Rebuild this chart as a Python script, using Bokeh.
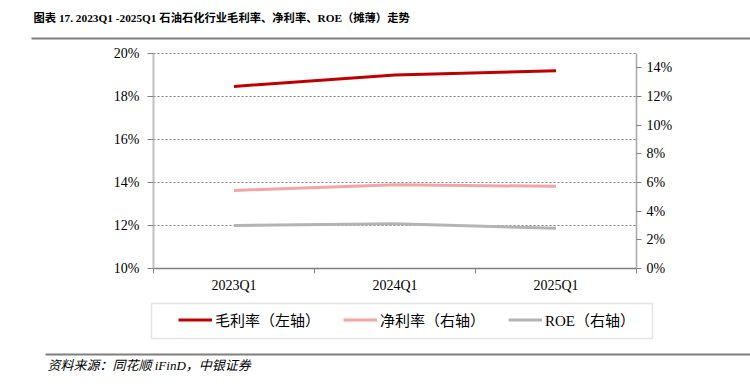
from bokeh.plotting import figure
from bokeh.models import (Range1d, LinearAxis, FixedTicker, PrintfTickFormatter,
                          Legend, LegendItem, ColumnDataSource, Label, BoxAnnotation)
from bokeh.embed import file_html
from bokeh.resources import INLINE

# ---- data ----
categories = ["2023Q1", "2024Q1", "2025Q1"]
gross_margin = [18.47, 19.0, 19.2]      # left axis, %
net_margin = [5.45, 5.85, 5.73]         # right axis, %
roe = [3.0, 3.12, 2.8]                  # right axis, %
left_ticks = [10, 12, 14, 16, 18, 20]
right_ticks = [0, 2, 4, 6, 8, 10, 12, 14]
left_lim = (10, 20)
right_lim = (0, 15)
title_text = "图表 17. 2023Q1 -2025Q1 石油石化行业毛利率、净利率、ROE（摊薄）走势"
source_text = "资料来源：同花顺 iFinD，中银证券"
legend_labels = ["毛利率（左轴）", "净利率（右轴）", "ROE（右轴）"]

FONT = "Liberation Serif, Noto Sans CJK SC"
W, H = 750, 388
# plot-area placement in pixels (layout only)
PL, PR, PT, PB = 153, 636, 53, 268

n = len(categories)
xpx = (PR - PL) / n
x_start = -PL / xpx
x_end = n + (W - PR) / xpx
lpx = (PB - PT) / (left_lim[1] - left_lim[0])
rpx = (PB - PT) / (right_lim[1] - right_lim[0])

xpos = [i + 0.5 for i in range(n)]
src = ColumnDataSource(dict(x=xpos, gross=gross_margin, net=net_margin, roe=roe))

p = figure(width=W, height=H, x_range=Range1d(x_start, x_end),
           y_range=Range1d(left_lim[0] - (H - PB) / lpx, left_lim[1] + PT / lpx),
           output_backend="svg", toolbar_location=None, min_border=0)
p.outline_line_color = None
p.grid.visible = False
p.extra_y_ranges = {"right": Range1d(right_lim[0] - (H - PB) / rpx,
                                     right_lim[1] + PT / rpx)}

# dotted horizontal guide lines at the left-axis ticks
p.segment(x0=[0] * len(left_ticks), x1=[n] * len(left_ticks), y0=left_ticks,
          y1=left_ticks, line_color="#808080", line_dash="2 2", line_width=1)

r1 = p.line("x", "gross", source=src, line_color="#C00000", line_width=3)
r2 = p.line("x", "net", source=src, line_color="#F2A6A6", line_width=3,
            y_range_name="right")
r3 = p.line("x", "roe", source=src, line_color="#B4B4B4", line_width=3,
            y_range_name="right")

# x axis
xa = p.xaxis[0]
xa.fixed_location = left_lim[0]
xa.bounds = (0, n)
xa.ticker = FixedTicker(ticks=xpos, minor_ticks=list(range(n + 1)))
xa.major_label_overrides = {x: c for x, c in zip(xpos, categories)}
xa.major_tick_line_color = None
xa.major_tick_out = 0
xa.major_tick_in = 0
xa.minor_tick_out = 5
xa.minor_tick_in = 0
xa.minor_tick_line_color = "#808080"
xa.axis_line_color = "#808080"
xa.axis_line_width = 1.5
xa.major_label_standoff = 4
xa.major_label_text_font = FONT
xa.major_label_text_font_size = "14px"
xa.major_label_text_color = "black"

# left axis
ya = p.yaxis[0]
ya.fixed_location = 0
ya.bounds = left_lim
ya.ticker = FixedTicker(ticks=left_ticks)
ya.formatter = PrintfTickFormatter(format="%d%%")
ya.axis_line_color = "#BFBFBF"
ya.axis_line_width = 2
ya.major_tick_line_color = "#808080"
ya.major_tick_out = 6
ya.major_tick_in = 0
ya.minor_tick_line_color = None
ya.major_label_standoff = 8
ya.major_label_text_font = FONT
ya.major_label_text_font_size = "14px"
ya.major_label_text_color = "black"

# right axis
ra = LinearAxis(y_range_name="right", ticker=FixedTicker(ticks=right_ticks),
                formatter=PrintfTickFormatter(format="%d%%"))
ra.fixed_location = n
ra.bounds = right_lim
ra.axis_line_color = "#A6A6A6"
ra.axis_line_width = 1.5
ra.major_tick_line_color = "#808080"
ra.major_tick_out = 5
ra.major_tick_in = 0
ra.minor_tick_line_color = None
ra.major_label_standoff = 5
ra.major_label_text_font = FONT
ra.major_label_text_font_size = "14px"
ra.major_label_text_color = "black"
p.add_layout(ra, "right")

# legend frame (decorative box) and the legend items inside it
p.add_layout(BoxAnnotation(left=151, right=652, top=H - 303, bottom=H - 338,
                           left_units="screen", right_units="screen",
                           top_units="screen", bottom_units="screen",
                           fill_color="white", fill_alpha=1,
                           line_color="#A6A6A6", line_width=1.5))
legend = Legend(items=[LegendItem(label=legend_labels[0], renderers=[r1]),
                       LegendItem(label=legend_labels[1], renderers=[r2]),
                       LegendItem(label=legend_labels[2], renderers=[r3])],
                orientation="horizontal", location=(178, H - 330),
                padding=0, spacing=23, margin=0,
                glyph_width=34, glyph_height=19, label_height=19,
                label_width=95, label_standoff=3,
                label_text_font=FONT, label_text_font_size="15px",
                label_text_color="black",
                border_line_color=None, background_fill_alpha=0)
p.add_layout(legend, "center")

# title, source and separator rules (screen units, frame == canvas)
p.add_layout(Label(x=33, y=H - 17, x_units="screen", y_units="screen", text=title_text,
                   text_font=FONT, text_font_style="bold", text_font_size="11.3px",
                   text_baseline="middle", text_align="left", text_color="black"))
p.add_layout(BoxAnnotation(left=31, right=W, top=H - 37, bottom=H - 39,
                           left_units="screen", right_units="screen",
                           top_units="screen", bottom_units="screen",
                           fill_color="#7f7f7f", fill_alpha=1, line_color=None))
p.add_layout(BoxAnnotation(left=45, right=W, top=H - 353, bottom=H - 355,
                           left_units="screen", right_units="screen",
                           top_units="screen", bottom_units="screen",
                           fill_color="#7f7f7f", fill_alpha=1, line_color=None))
p.add_layout(Label(x=47, y=H - 365, x_units="screen", y_units="screen", text=source_text,
                   text_font=FONT, text_font_style="italic", text_font_size="13px",
                   text_baseline="middle", text_align="left", text_color="black"))

open("out.html", "w").write(file_html(p, INLINE))
